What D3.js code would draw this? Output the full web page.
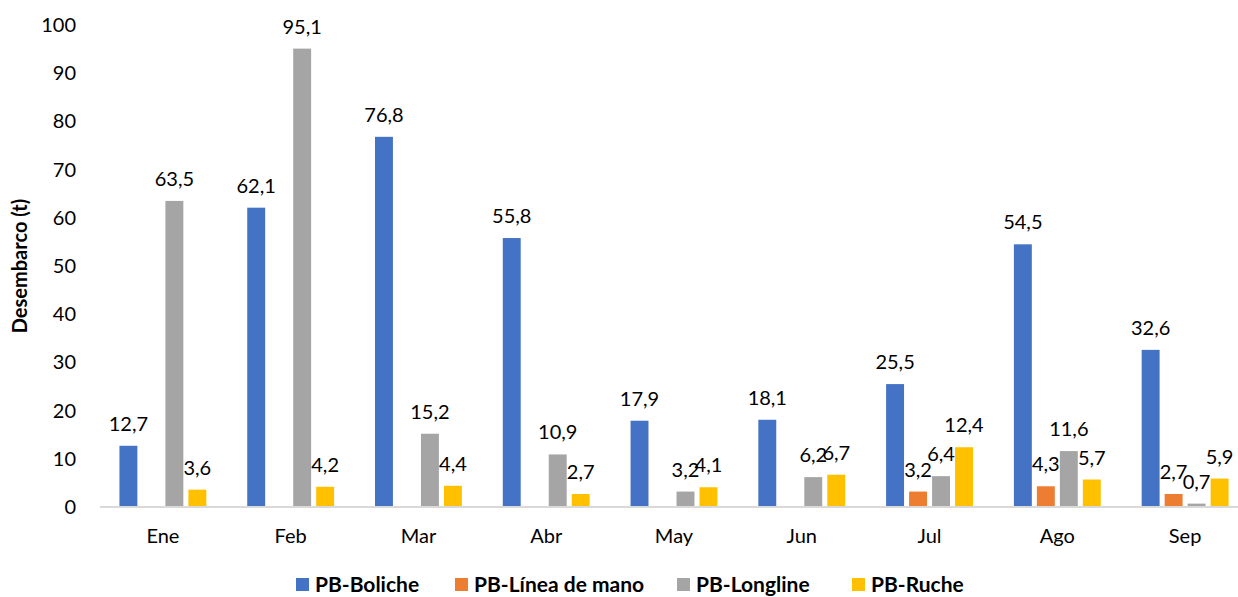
<!DOCTYPE html>
<html>
<head>
<meta charset="utf-8">
<script src="https://cdn.jsdelivr.net/npm/d3@7"></script>
<style>
	body { margin: 0; background: #fff; }
	svg { display: block; font-family: Lato, "Open Sans", sans-serif; }
</style>
</head>
<body>
<script>
(function(d3) {
	var width = 1238;
	var height = 597;

	var months = ["Ene", "Feb", "Mar", "Abr", "May", "Jun", "Jul", "Ago", "Sep"];
	var seriesNames = ["PB-Boliche", "PB-Línea de mano", "PB-Longline", "PB-Ruche"];
	var colors = ["#4472C4", "#ED7D31", "#A5A5A5", "#FFC000"];

	var boliche = [12.7, 62.1, 76.8, 55.8, 17.9, 18.1, 25.5, 54.5, 32.6];
	var lineaMano = [null, null, null, null, null, null, 3.2, 4.3, 2.7];
	var longline = [63.5, 95.1, 15.2, 10.9, 3.2, 6.2, 6.4, 11.6, 0.7];
	var ruche = [3.6, 4.2, 4.4, 2.7, 4.1, 6.7, 12.4, 5.7, 5.9];
	var yTicks = [0, 10, 20, 30, 40, 50, 60, 70, 80, 90, 100];

	var values = [boliche, lineaMano, longline, ruche];

	var svg = d3.select("body").append("svg")
		.attr("width", width)
		.attr("height", height);

	svg.append("rect").attr("width", width).attr("height", height).attr("fill", "#fff");

	var x0 = d3.scaleBand()
		.domain(months)
		.range([99, 1249])
		.paddingInner(0.32)
		.paddingOuter(0.16);

	var x1 = d3.scaleBand()
		.domain(seriesNames)
		.range([0, x0.bandwidth()])
		.paddingInner(0.22);

	var y = d3.scaleLinear()
		.domain([0, 100])
		.range([507, 25]);

	// y axis labels, no line
	var yAxis = svg.append("g")
		.attr("transform", "translate(92,0)")
		.call(d3.axisLeft(y).tickValues(yTicks).tickSize(0).tickPadding(16));
	yAxis.select(".domain").remove();
	yAxis.selectAll("text")
		.attr("font-size", "20px")
		.attr("font-family", "Lato, sans-serif")
		.attr("fill", "#000");

	// bars
	var rows = [];
	months.forEach(function(m, i) {
		seriesNames.forEach(function(s, j) {
			if (values[j][i] != null) rows.push({month: m, series: s, value: values[j][i], color: colors[j]});
		});
	});

	var bars = svg.append("g");
	bars.selectAll("rect")
		.data(rows)
		.enter().append("rect")
		.attr("x", function(d) { return x0(d.month) + x1(d.series); })
		.attr("y", function(d) { return y(d.value); })
		.attr("width", x1.bandwidth())
		.attr("height", function(d) { return y(0) - y(d.value); })
		.attr("fill", function(d) { return d.color; });

	bars.selectAll("text")
		.data(rows)
		.enter().append("text")
		.attr("x", function(d) { return x0(d.month) + x1(d.series) + x1.bandwidth() / 2; })
		.attr("y", function(d) { return y(d.value) - 15; })
		.attr("text-anchor", "middle")
		.attr("font-size", "20px")
		.attr("fill", "#000")
		.text(function(d) { return d3.format(".1f")(d.value).replace(".", ","); });

	// x axis
	var xAxis = svg.append("g")
		.attr("transform", "translate(0,507)")
		.call(d3.axisBottom(x0).tickSize(0).tickPadding(22));
	xAxis.select(".domain").attr("stroke", "#D9D9D9").attr("stroke-width", 2)
		.attr("d", "M100,0H1238");
	xAxis.selectAll("text")
		.attr("font-size", "20px")
		.attr("font-family", "Lato, sans-serif")
		.attr("fill", "#000");

	// y title
	svg.append("text")
		.attr("transform", "translate(27,266) rotate(-90)")
		.attr("text-anchor", "middle")
		.attr("font-size", "20px")
		.attr("font-weight", "bold")
		.attr("fill", "#000")
		.text("Desembarco (t)");

	// legend
	var legendX = [296, 455, 677, 852];
	var legend = svg.append("g");
	seriesNames.forEach(function(s, i) {
		var g = legend.append("g").attr("transform", "translate(" + legendX[i] + ",578)");
		g.append("rect").attr("width", 13).attr("height", 13).attr("fill", colors[i]);
		g.append("text")
			.attr("x", 19)
			.attr("y", 14)
			.attr("font-size", "21px")
			.attr("font-weight", "bold")
			.attr("fill", "#000")
			.text(s);
	});

})(d3);
</script>
</body>
</html>
